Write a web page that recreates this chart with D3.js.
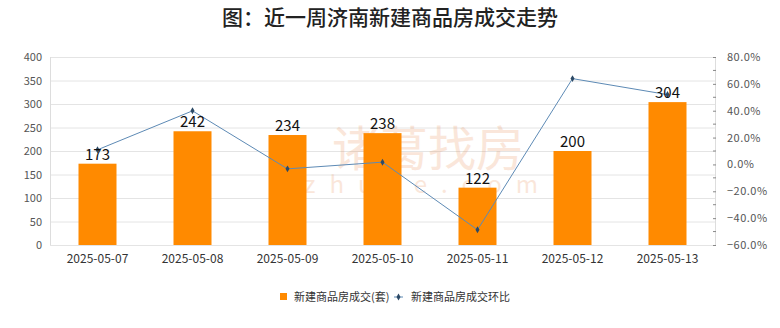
<!DOCTYPE html>
<html><head><meta charset="utf-8">
<script src="https://cdn.jsdelivr.net/npm/d3@7"></script>
<style>body{margin:0;background:#fff}svg{display:block}</style>
</head><body>
<svg id="c" width="780" height="328"></svg>
<script>
const categories = ["2025-05-07","2025-05-08","2025-05-09","2025-05-10","2025-05-11","2025-05-12","2025-05-13"];
const deals = [173, 242, 234, 238, 122, 200, 304];
const ratio = [10.9, 39.9, -3.3, 1.7, -48.7, 63.9, 52.0];
const leftTicks = [0,50,100,150,200,250,300,350,400];
const rightTicks = [-60,-40,-20,0,20,40,60,80];
const title = "图：近一周济南新建商品房成交走势";
const legendNames = ["新建商品房成交(套)", "新建商品房成交环比"];

const svg = d3.select("#c");
const font = "'Noto Sans CJK SC', 'Noto Sans', sans-serif";
const m = {l:50, r:715, t:57, b:245};

const x = d3.scaleBand().domain(categories).range([m.l, m.r]).paddingInner(0.6).paddingOuter(0.3);
const y = d3.scaleLinear().domain([0,400]).range([m.b, m.t]);
const y2 = d3.scaleLinear().domain([-60,80]).range([m.b, m.t]);

// title
svg.append("text").attr("x",390).attr("y",25).attr("text-anchor","middle")
  .attr("font-family",font).attr("font-size",21).attr("font-weight",500).attr("fill","#222").text(title);

// grid
svg.append("g").selectAll("line").data(leftTicks).join("line")
  .attr("x1",m.l).attr("x2",m.r).attr("y1",d=>y(d)+0.5).attr("y2",d=>y(d)+0.5)
  .attr("stroke","#e4e4e4");
svg.append("line").attr("x1",m.l+0.5).attr("x2",m.l+0.5).attr("y1",m.t).attr("y2",m.b).attr("stroke","#ddd");
svg.append("line").attr("x1",m.r+0.5).attr("x2",m.r+0.5).attr("y1",m.t).attr("y2",m.b).attr("stroke","#ddd");

// watermark
const wm = svg.append("g").attr("opacity",0.2);
wm.append("text").attr("x",428).attr("y",166).attr("text-anchor","middle").attr("font-family",font)
  .attr("font-size",48).attr("font-weight",400).attr("fill","#e8884a").text("诸葛找房");
wm.append("text").attr("x",428).attr("y",193).attr("text-anchor","middle").attr("font-family",font)
  .attr("font-size",24).attr("letter-spacing",14).attr("fill","#e8884a").text("zhuge.com");

// left axis
const la = svg.append("g").attr("transform",`translate(${m.l-6},0)`)
  .call(d3.axisLeft(y).tickValues(leftTicks).tickSize(0).tickPadding(2));
la.select(".domain").remove();
la.selectAll("text").attr("font-family",font).attr("font-size",11).attr("fill","#555");

// right axis
const ra = svg.append("g").attr("transform",`translate(${m.r},0)`)
  .call(d3.axisRight(y2).tickValues(rightTicks).tickSize(3).tickPadding(9).tickFormat(d=>d3.format(".1f")(d)+"%"));
ra.select(".domain").remove();
ra.selectAll("line").attr("stroke","#888").attr("x1",-2).attr("x2",1);
ra.selectAll("text").attr("font-family",font).attr("font-size",11).attr("fill","#555").attr("letter-spacing",0.5);
const minor = d3.range(-50,80,20);
ra.selectAll(".minor").data(minor).join("line").attr("class","minor")
  .attr("x1",-2).attr("x2",1).attr("y1",d=>y2(d)).attr("y2",d=>y2(d)).attr("stroke","#888");

// x axis
const xa = svg.append("g").attr("transform",`translate(0,${m.b})`)
  .call(d3.axisBottom(x).tickSize(0).tickPadding(9));
xa.select(".domain").remove();
xa.selectAll("text").attr("font-family",font).attr("font-size",12).attr("fill","#333");

// bars
svg.append("g").selectAll("rect").data(deals).join("rect")
  .attr("x",(d,i)=>x(categories[i])).attr("width",x.bandwidth())
  .attr("y",d=>y(d)).attr("height",d=>y(0)-y(d)).attr("fill","#ff8a00");

// line
const line = d3.line().x((d,i)=>x(categories[i])+x.bandwidth()/2).y(d=>y2(d));
svg.append("path").datum(ratio).attr("d",line).attr("fill","none").attr("stroke","#5d8ab5").attr("stroke-width",1);
svg.append("g").selectAll("path").data(ratio).join("path")
  .attr("transform",(d,i)=>`translate(${x(categories[i])+x.bandwidth()/2},${y2(d)})`)
  .attr("d",d3.symbol(d3.symbolDiamond,14)).attr("fill","#2c4a66");

// bar labels
svg.append("g").selectAll("text").data(deals).join("text")
  .attr("x",(d,i)=>x(categories[i])+x.bandwidth()/2).attr("y",d=>y(d)-4)
  .attr("text-anchor","middle").attr("font-family",font).attr("font-size",15).attr("fill","#111").text(d=>d);

// legend
const lg = svg.append("g").attr("font-family",font).attr("font-size",11).attr("fill","#333");
lg.append("rect").attr("x",280).attr("y",293).attr("width",7).attr("height",7).attr("fill","#ff8a00");
lg.append("text").attr("x",294).attr("y",301).text(legendNames[0]);
lg.append("line").attr("x1",394).attr("x2",403).attr("y1",297).attr("y2",297).attr("stroke","#5d8ab5");
lg.append("path").attr("transform","translate(398.5,297)").attr("d",d3.symbol(d3.symbolDiamond,14)).attr("fill","#2c4a66");
lg.append("text").attr("x",411).attr("y",301).text(legendNames[1]);
</script>
</body></html>
